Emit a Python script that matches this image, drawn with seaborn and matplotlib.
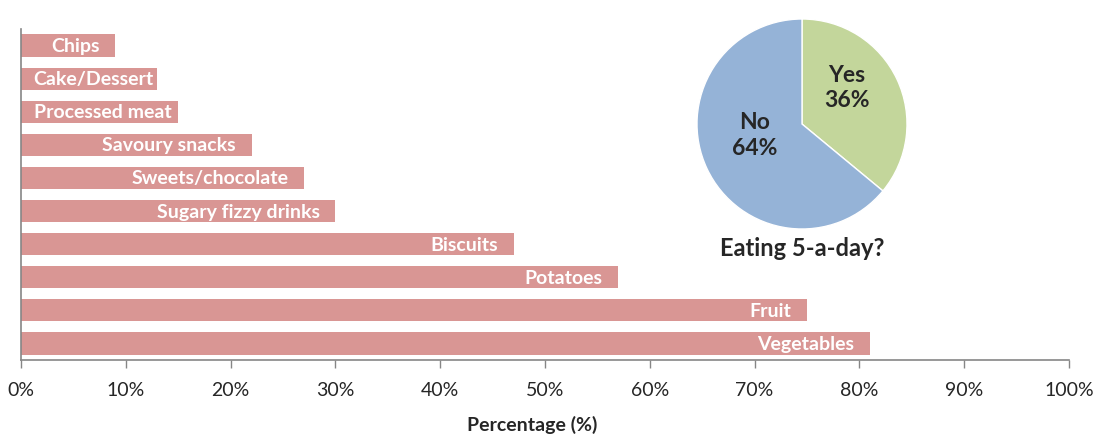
import matplotlib.pyplot as plt
import seaborn as sns
import pandas as pd
from matplotlib.ticker import PercentFormatter

foods = ["Chips", "Cake/Dessert", "Processed meat", "Savoury snacks", "Sweets/chocolate",
         "Sugary fizzy drinks", "Biscuits", "Potatoes", "Fruit", "Vegetables"]
percent = [9, 13, 15, 22, 27, 30, 47, 57, 75, 81]

pie_labels = ["Yes", "No"]
pie_values = [36, 64]

bar_color = "#D99694"
pie_colors = ["#C3D69B", "#95B3D7"]

sns.set_style("white")
plt.rcParams["font.family"] = ["Lato", "DejaVu Sans"]

df = pd.DataFrame({"food": foods, "pct": percent})

fig = plt.figure(figsize=(10.97, 4.39), dpi=100)
ax = fig.add_axes([21 / 1097, 1 - 361 / 439, 1048 / 1097, 331 / 439])
sns.barplot(data=df, x="pct", y="food", orient="h", color=bar_color, width=0.67,
            saturation=1, ax=ax, edgecolor="none")
ax.set_xlim(0, 100)
ax.set_ylim(len(foods) - 0.5, -0.5)
ax.xaxis.set_major_formatter(PercentFormatter(decimals=0))
ax.set_xticks(range(0, 101, 10))
ax.set_yticks([])
ax.set_ylabel("")
ax.set_xlabel("Percentage (%)", fontsize=14, fontweight="bold")
ax.xaxis.set_label_coords(511 / 1048, -64 / 331)
ax.xaxis.label.set_va("center")
ax.tick_params(axis="x", direction="out", length=6, width=1, color="#868686",
               labelsize=14, pad=9, bottom=True)
for s in ["top", "right"]:
    ax.spines[s].set_visible(False)
for s in ["left", "bottom"]:
    ax.spines[s].set_color("#868686")
    ax.spines[s].set_linewidth(1.2)

# labels inside bars
fig.canvas.draw()
renderer = fig.canvas.get_renderer()
ax_left = ax.get_window_extent().x0
for i, (name, v) in enumerate(zip(foods, percent)):
    t = ax.text(v - 1.5, i, name, ha="right", va="center", color="white",
                fontsize=14, fontweight="bold")
    bb = t.get_window_extent(renderer)
    if bb.x0 < ax_left + 12:
        t.set_ha("left")
        t.set_x(1.2)

# pie
pax = fig.add_axes([(802 - 105) / 1097, 1 - (125 + 105) / 439, 210 / 1097, 210 / 439])
wedges, _ = pax.pie(pie_values, colors=pie_colors, startangle=90, counterclock=False,
                    wedgeprops=dict(edgecolor="white", linewidth=1))
pax.set_xlim(-1, 1)
pax.set_ylim(-1, 1)
pax.set_aspect("equal")
label_pos = [(0.43, 0.35), (-0.45, -0.1)]
for (x, y), l, v in zip(label_pos, pie_labels, pie_values):
    pax.text(x, y, f"{l}\n{v}%", ha="center", va="center", fontsize=16.5,
             fontweight="bold", linespacing=1.25)
fig.text(802 / 1097, 1 - 249 / 439, "Eating 5-a-day?", ha="center", va="center",
         fontsize=17, fontweight="bold")

fig.savefig("out.png", dpi=100)
